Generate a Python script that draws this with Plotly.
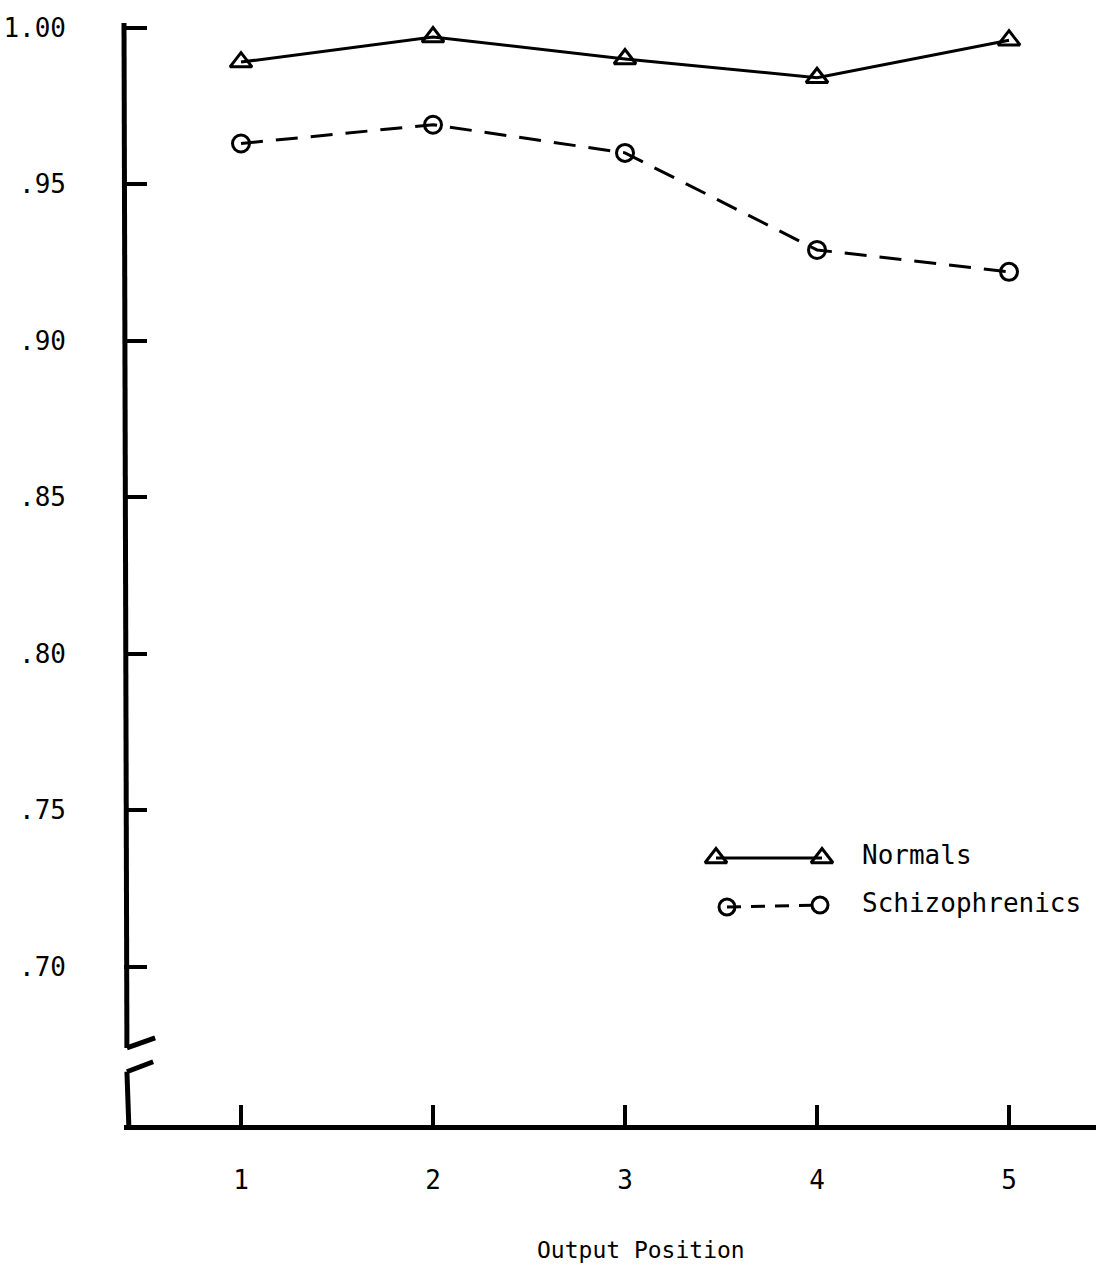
import plotly.graph_objects as go

# ---- data ----
positions = [1, 2, 3, 4, 5]
normals = [0.989, 0.997, 0.990, 0.984, 0.996]
schizophrenics = [0.963, 0.969, 0.960, 0.929, 0.922]
y_tickvals = [1.00, 0.95, 0.90, 0.85, 0.80, 0.75, 0.70]
y_ticktext = ["1.00", ".95", ".90", ".85", ".80", ".75", ".70"]
x_tickvals = [1, 2, 3, 4, 5]
x_ticktext = ["1", "2", "3", "4", "5"]
series_names = ["Normals", "Schizophrenics"]
x_title = "Output Position"

FONT = "DejaVu Sans Mono"
W, H = 1096, 1270
ML, MR, MT, MB = 124, 0, 12, 145
PW, PH = W - ML - MR, H - MT - MB

fig = go.Figure()

fig.add_trace(go.Scatter(
    x=positions, y=normals, mode="lines+markers", name=series_names[0],
    line=dict(color="black", width=3),
    marker=dict(symbol="triangle-up-open", size=19, color="black", line=dict(width=3)),
    cliponaxis=False, showlegend=False))

fig.add_trace(go.Scatter(
    x=positions, y=schizophrenics, mode="lines+markers", name=series_names[1],
    line=dict(color="black", width=3, dash="22px,13px"),
    marker=dict(symbol="circle-open", size=17, color="black", line=dict(width=3)),
    cliponaxis=False, showlegend=False))

# ---- legend key drawn on an overlay axis in pixel units ----
fig.add_trace(go.Scatter(
    x=[716, 822], y=[858, 858], xaxis="x2", yaxis="y2", mode="lines+markers",
    line=dict(color="black", width=3),
    marker=dict(symbol="triangle-up-open", size=19, color="black", line=dict(width=3)),
    showlegend=False, hoverinfo="skip"))
fig.add_trace(go.Scatter(
    x=[727, 820], y=[907, 905], xaxis="x2", yaxis="y2", mode="lines+markers",
    line=dict(color="black", width=3, dash="14px,10px"),
    marker=dict(symbol="circle-open", size=16, color="black", line=dict(width=3)),
    showlegend=False, hoverinfo="skip"))

for name, yy in zip(series_names, [855, 903]):
    fig.add_annotation(x=860, y=yy, xref="x2", yref="y2", text=name,
                       showarrow=False, xanchor="left", yanchor="middle",
                       font=dict(family=FONT, size=26, color="black"))

# ---- broken y axis line ----
lw = dict(color="black", width=5)
fig.add_shape(type="line", xref="paper", yref="y", x0=0, y0=1.0015, x1=0.003, y1=0.6741, line=lw)
fig.add_shape(type="line", xref="paper", yref="y", x0=0.003, y0=0.6741, x1=0.032, y1=0.6773, line=lw)
fig.add_shape(type="line", xref="paper", yref="y", x0=0.003, y0=0.6665, x1=0.030, y1=0.6697, line=lw)
fig.add_shape(type="line", xref="paper", yref="y", x0=0.003, y0=0.6665, x1=0.005, y1=0.6490, line=lw)

fig.update_layout(
    width=W, height=H, template="none",
    margin=dict(l=ML, r=MR, t=MT, b=MB, autoexpand=False),
    paper_bgcolor="white", plot_bgcolor="white",
    font=dict(family=FONT, size=26, color="black"),
    xaxis=dict(range=[0.3906, 5.453], tickvals=x_tickvals, ticktext=x_ticktext,
               showline=True, linecolor="black", linewidth=5,
               ticks="inside", ticklen=20, tickwidth=4, tickcolor="black",
               showgrid=False, zeroline=False, ticklabelstandoff=28,
               automargin=False,
               tickfont=dict(family=FONT, size=26, color="black")),
    yaxis=dict(range=[0.6495, 1.005], tickvals=y_tickvals, ticktext=y_ticktext,
               showline=False, ticks="inside", ticklen=23, tickwidth=4, tickcolor="black",
               showgrid=False, zeroline=False, ticklabelstandoff=57,
               automargin=False,
               tickfont=dict(family=FONT, size=26, color="black")),
    xaxis2=dict(range=[ML, W - MR], overlaying="x", visible=False, fixedrange=True),
    yaxis2=dict(range=[H - MB, MT], overlaying="y", visible=False, fixedrange=True),
)

fig.add_annotation(x=(641 - ML) / PW, y=(H - MB - 1250) / PH, xref="paper", yref="paper",
                   text=x_title, showarrow=False, xanchor="center", yanchor="middle",
                   font=dict(family=FONT, size=23, color="black"))

fig.write_html("out.html", config={"displayModeBar": False},
               post_script="document.body.style.margin='0';")
